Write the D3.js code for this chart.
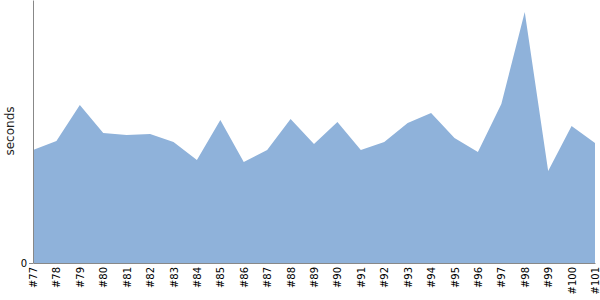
<!DOCTYPE html>
<html>
<head>
<meta charset="utf-8">
<script src="https://cdn.jsdelivr.net/npm/d3@7"></script>
<style>
  body { margin: 0; background: #fff; }
  .axis path, .axis line { stroke: #888; }
  .axis text { font-family: "DejaVu Sans", sans-serif; font-size: 10px; fill: #000; }
</style>
</head>
<body>
<svg width="600" height="300"></svg>
<script>
// build numbers along the x axis
var builds = ["#77","#78","#79","#80","#81","#82","#83","#84","#85","#86","#87","#88","#89",
              "#90","#91","#92","#93","#94","#95","#96","#97","#98","#99","#100","#101"];
// duration in seconds for each build
var seconds = [45.1, 48.7, 63.1, 51.9, 51.1, 51.5, 48.3, 41.1, 57.1, 40.3, 45.1, 57.5, 47.5,
               56.3, 45.1, 48.3, 55.9, 59.9, 49.9, 44.3, 63.5, 100.2, 36.7, 54.7, 47.9];
var yTicks = [0];

var svg = d3.select("svg"),
    margin = {top: 0, right: 5, bottom: 37, left: 33},
    width = +svg.attr("width") - margin.left - margin.right,
    height = +svg.attr("height") - margin.top - margin.bottom;

var x = d3.scalePoint().domain(builds).range([0, width]),
    y = d3.scaleLinear().domain([0, 105]).range([height, 0]);

var g = svg.append("g")
    .attr("transform", "translate(" + margin.left + "," + margin.top + ")");

var data = builds.map(function(b, i) { return {build: b, secs: seconds[i]}; });

var area = d3.area()
    .x(function(d) { return x(d.build); })
    .y0(height)
    .y1(function(d) { return y(d.secs); });

g.append("path")
    .datum(data)
    .attr("fill", "#8fb2da")
    .attr("d", area);

g.append("g")
    .attr("class", "axis axis--x")
    .attr("transform", "translate(0," + height + ")")
    .call(d3.axisBottom(x).tickSize(0).tickSizeOuter(0))
  .selectAll("text")
    .attr("transform", "rotate(-90)")
    .attr("text-anchor", "end")
    .attr("x", -4)
    .attr("y", 0)
    .attr("dy", "0.35em");

g.append("g")
    .attr("class", "axis axis--y")
    .call(d3.axisLeft(y).tickValues(yTicks).tickSize(4).tickSizeOuter(0))
  .selectAll("text")
    .attr("x", -6);

svg.append("text")
    .attr("transform", "rotate(-90)")
    .attr("x", -131)
    .attr("y", 14)
    .attr("text-anchor", "middle")
    .style("font-family", "DejaVu Sans, sans-serif")
    .style("font-size", "12px")
    .style("fill", "#222")
    .text("seconds");
</script>
</body>
</html>
